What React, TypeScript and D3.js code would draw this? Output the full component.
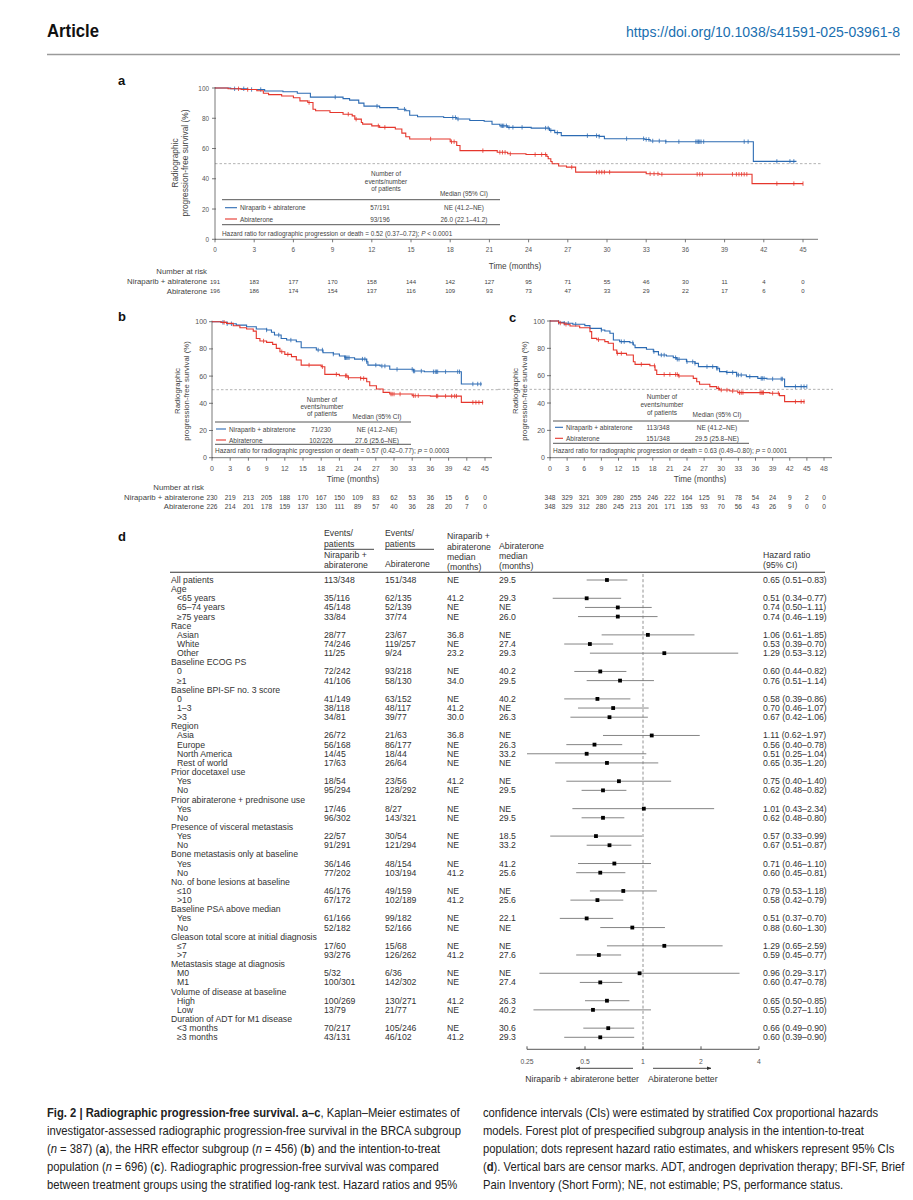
import React from 'react';
import * as d3 from 'd3';

type Pt = [number, number];

const FONT = "'Liberation Sans', Arial, sans-serif";
const NIRA_COLOR = '#2c6bb3';
const ABI_COLOR = '#e5362c';
const AXIS = '#555';
const TXT = '#333';

// ---------- shared ticks ----------
const TICKS_45 = [0, 3, 6, 9, 12, 15, 18, 21, 24, 27, 30, 33, 36, 39, 42, 45];
const TICKS_48 = [0, 3, 6, 9, 12, 15, 18, 21, 24, 27, 30, 33, 36, 39, 42, 45, 48];
const Y_TICKS = [0, 20, 40, 60, 80, 100];
const ARMS = ['Niraparib + abiraterone', 'Abiraterone'];

// ---------- panel a (BRCA) ----------
const A_NIRA: Pt[] = [[0, 100], [1.2, 99.5], [2.5, 99], [3.8, 98], [5.2, 97.5], [6.3, 96.5], [7.3, 94], [9.8, 93], [10.3, 92], [11.0, 90], [11.4, 88], [12.6, 87], [14, 86], [14.6, 85], [14.9, 82], [15.5, 81], [17.5, 80.5], [18.5, 79.5], [19.5, 78.5], [20.6, 78], [21.2, 76], [21.8, 75], [22.4, 74], [24.2, 73.5], [25.6, 72], [26.0, 70.5], [26.5, 68.5], [29.4, 68], [29.8, 66.5], [32.9, 66], [33.3, 65], [34.5, 64.5], [41.2, 51.5], [44.5, 51.5]];
const A_ABI: Pt[] = [[0, 100], [1.0, 99.5], [2.0, 99], [3.2, 98.2], [3.7, 96.5], [4.1, 95.6], [5.1, 94.7], [6.0, 93.6], [6.5, 91.5], [7.1, 90.4], [7.5, 86], [7.7, 85], [8.8, 83.8], [9.8, 82.7], [10.5, 81.6], [10.7, 79.4], [11.2, 77.2], [11.3, 76.1], [12.0, 75], [12.6, 74], [13.8, 72.9], [14.3, 70.2], [14.6, 67.8], [14.9, 66.3], [18.0, 64.5], [18.5, 62], [18.75, 58.6], [21.6, 57.5], [22.4, 56.5], [23.8, 56], [25.4, 54.7], [25.5, 53.2], [25.7, 51.4], [25.8, 49.9], [26.3, 48.4], [26.9, 47.7], [27.6, 44.4], [33.0, 43.3], [34, 43], [41.1, 36.8], [45, 36.8]];
const A_NIRA_CENS = [1.5, 2.2, 2.8, 3.5, 9.2, 12.4, 14.5, 18.2, 18.4, 18.6, 21.9, 22.0, 22.1, 22.3, 22.5, 22.8, 23.5, 25.3, 25.5, 25.7, 26.2, 28.5, 29.2, 29.4, 31.5, 32.8, 33.0, 33.2, 33.5, 34.0, 34.5, 35.5, 36.8, 36.9, 37.0, 37.1, 37.2, 37.4, 40.5, 40.8, 43.0, 44.0, 44.3];
const A_ABI_CENS = [1.8, 2.5, 7.2, 10.2, 10.8, 12.5, 13.0, 16.5, 18.1, 18.3, 20.5, 21.8, 22.0, 22.2, 22.6, 24.5, 25.0, 25.3, 27.3, 29.2, 29.4, 29.6, 29.8, 30.2, 33.3, 33.6, 33.9, 34.2, 36.9, 37.1, 37.3, 39.6, 39.9, 40.1, 40.3, 40.5, 40.7, 43.0, 44.3, 45.0];
const A_RISK_NIRA = [191, 183, 177, 170, 158, 144, 142, 127, 95, 71, 55, 46, 30, 11, 4, 0];
const A_RISK_ABI = [196, 186, 174, 154, 137, 116, 109, 93, 73, 47, 33, 29, 22, 17, 6, 0];
const A_COUNTS = ['57/191', '93/196'];
const A_MEDIANS = ['NE (41.2–NE)', '26.0 (22.1–41.2)'];
const A_HR = ['0.52 (0.37–0.72)', '< 0.0001'];

// ---------- panel b (HRR effector) ----------
const B_NIRA: Pt[] = [[0, 100], [1.5, 99.5], [2.5, 98.5], [4.0, 97.5], [5.7, 96.3], [7.3, 94.6], [9.0, 93.9], [9.8, 92.2], [10.3, 90.2], [11.4, 87.7], [12.3, 86.5], [13.9, 85.3], [14.7, 80.9], [17.2, 79.2], [18.3, 77.2], [20.0, 76.2], [21.0, 74.8], [21.9, 73.5], [23.5, 72.5], [25.5, 70.6], [25.7, 68.1], [27.7, 67.4], [29.3, 65], [33.2, 63.7], [35, 63.2], [41.1, 54.2], [44.5, 54.2]];
const B_ABI: Pt[] = [[0, 100], [1.5, 99.5], [2.4, 98.8], [3.5, 97], [4.6, 95.6], [5.7, 94.6], [6.8, 93.1], [7.3, 87.7], [7.9, 85.8], [9.0, 84.8], [10.0, 83.3], [10.6, 80.4], [11.2, 77.9], [12.0, 76], [13.1, 74.3], [13.9, 71.8], [14.7, 68.1], [18.0, 66.9], [18.6, 61.3], [21.0, 60.3], [22.4, 58.8], [24.5, 58.3], [25.5, 55.9], [26.0, 52.9], [27.1, 50.5], [28.2, 48], [29.3, 46.8], [33.0, 45.6], [36, 45.3], [41.1, 40.7], [44.7, 40.7]];
const B_NIRA_CENS = [1.8, 2.5, 3.2, 9.0, 11.0, 13.0, 17.5, 18.2, 20.0, 21.9, 22.0, 22.2, 22.4, 22.6, 24.8, 25.2, 25.5, 27.0, 28.0, 28.5, 30.5, 33.0, 33.2, 33.4, 34.5, 36.5, 36.8, 37.0, 37.2, 38.5, 40.5, 40.8, 43.0, 43.8, 44.3];
const B_ABI_CENS = [2.0, 8.5, 11.5, 12.5, 16.0, 18.2, 20.5, 22.0, 22.2, 22.5, 24.5, 25.0, 29.5, 29.7, 30.0, 31.0, 33.2, 33.5, 34.0, 37.0, 37.2, 38.5, 39.5, 40.0, 40.3, 43.0, 43.5, 44.0, 44.6];
const B_RISK_NIRA = [230, 219, 213, 205, 188, 170, 167, 150, 109, 83, 62, 53, 36, 15, 6, 0];
const B_RISK_ABI = [226, 214, 201, 178, 159, 137, 130, 111, 89, 57, 40, 36, 28, 20, 7, 0];
const B_COUNTS = ['71/230', '102/226'];
const B_MEDIANS = ['NE (41.2–NE)', '27.6 (25.6–NE)'];
const B_HR = ['0.57 (0.42–0.77)', '= 0.0003'];

// ---------- panel c (ITT) ----------
const C_NIRA: Pt[] = [[0, 100], [1.5, 99], [2.5, 98.3], [4, 97.6], [6.1, 96.6], [7.0, 94.6], [9.0, 93.4], [9.6, 92.7], [10.5, 91], [11.1, 86.1], [12.2, 84.9], [14.0, 84.1], [14.6, 82.4], [14.9, 80.5], [16.9, 79.3], [18.1, 77.6], [19.0, 75.1], [20.4, 74.4], [21.6, 73.2], [22.2, 72], [23.9, 70.2], [25.4, 69], [26.0, 66.6], [29.2, 65.4], [29.7, 63], [30.9, 62.4], [32.7, 60.5], [34.4, 59.3], [36.4, 58], [38, 57.6], [41.1, 52], [45, 52]];
const C_ABI: Pt[] = [[0, 100], [1.5, 98.5], [2.5, 97.6], [3.5, 96.3], [5.2, 95.1], [7.0, 92.2], [7.3, 87.3], [8.2, 86.3], [9.6, 84.9], [10.2, 83.7], [11.1, 78.8], [11.7, 76.3], [13.4, 75.1], [14.6, 70.2], [14.9, 68.3], [17.5, 67.3], [18.4, 64.1], [18.7, 60.9], [22.5, 59.8], [25.1, 58], [25.7, 55.6], [26.2, 53.7], [28.0, 52], [29.2, 50.7], [29.7, 49.5], [31.5, 48.8], [32.9, 47.6], [38.5, 47.1], [40.2, 45.4], [41.1, 41], [44.6, 41]];
const C_NIRA_CENS = [1.5, 2.5, 3.2, 4.5, 9.0, 12.5, 13.0, 14.5, 18.2, 19.5, 20.0, 22.0, 22.3, 22.6, 24.0, 25.0, 25.4, 27.5, 28.5, 29.2, 29.4, 31.0, 32.0, 32.7, 33.0, 33.5, 35.0, 37.0, 37.2, 37.5, 39.0, 40.5, 40.7, 43.0, 44.0, 44.5, 45.0];
const C_ABI_CENS = [1.8, 2.8, 8.5, 11.8, 12.5, 16.0, 18.3, 20.0, 21.0, 22.0, 22.3, 22.6, 29.5, 30.0, 31.0, 32.0, 33.2, 33.5, 33.8, 36.8, 37.0, 37.2, 37.4, 39.0, 40.0, 43.0, 44.0, 44.5];
const C_RISK_NIRA = [348, 329, 321, 309, 280, 255, 246, 222, 164, 125, 91, 78, 54, 24, 9, 2, 0];
const C_RISK_ABI = [348, 329, 312, 280, 245, 213, 201, 171, 135, 93, 70, 56, 43, 26, 9, 0, 0];
const C_COUNTS = ['113/348', '151/348'];
const C_MEDIANS = ['NE (41.2–NE)', '29.5 (25.8–NE)'];
const C_HR = ['0.63 (0.49–0.80)', '= 0.0001'];

// ---------- panel d (forest) ----------
const SUBGROUPS = ['All patients', 'Age', '<65 years', '65–74 years', '≥75 years', 'Race', 'Asian', 'White', 'Other', 'Baseline ECOG PS', '0', '≥1', 'Baseline BPI-SF no. 3 score', '0', '1–3', '>3', 'Region', 'Asia', 'Europe', 'North America', 'Rest of world', 'Prior docetaxel use', 'Yes', 'No', 'Prior abiraterone + prednisone use', 'Yes', 'No', 'Presence of visceral metastasis', 'Yes', 'No', 'Bone metastasis only at baseline', 'Yes', 'No', 'No. of bone lesions at baseline', '≤10', '>10', 'Baseline PSA above median', 'Yes', 'No', 'Gleason total score at initial diagnosis', '≤7', '>7', 'Metastasis stage at diagnosis', 'M0', 'M1', 'Volume of disease at baseline', 'High', 'Low', 'Duration of ADT for M1 disease', '<3 months', '≥3 months'];
const EVENTS_NIRA = ['113/348', '', '35/116', '45/148', '33/84', '', '28/77', '74/246', '11/25', '', '72/242', '41/106', '', '41/149', '38/118', '34/81', '', '26/72', '56/168', '14/45', '17/63', '', '18/54', '95/294', '', '17/46', '96/302', '', '22/57', '91/291', '', '36/146', '77/202', '', '46/176', '67/172', '', '61/166', '52/182', '', '17/60', '93/276', '', '5/32', '100/301', '', '100/269', '13/79', '', '70/217', '43/131'];
const EVENTS_ABI = ['151/348', '', '62/135', '52/139', '37/74', '', '23/67', '119/257', '9/24', '', '93/218', '58/130', '', '63/152', '48/117', '39/77', '', '21/63', '86/177', '18/44', '26/64', '', '23/56', '128/292', '', '8/27', '143/321', '', '30/54', '121/294', '', '48/154', '103/194', '', '49/159', '102/189', '', '99/182', '52/166', '', '15/68', '126/262', '', '6/36', '142/302', '', '130/271', '21/77', '', '105/246', '46/102'];
const MEDIAN_NIRA = ['NE', '', '41.2', 'NE', 'NE', '', '36.8', 'NE', '23.2', '', 'NE', '34.0', '', 'NE', '41.2', '30.0', '', '36.8', 'NE', 'NE', 'NE', '', '41.2', 'NE', '', 'NE', 'NE', '', 'NE', 'NE', '', 'NE', '41.2', '', 'NE', '41.2', '', 'NE', 'NE', '', 'NE', '41.2', '', 'NE', 'NE', '', '41.2', 'NE', '', 'NE', '41.2'];
const MEDIAN_ABI = ['29.5', '', '29.3', 'NE', '26.0', '', 'NE', '27.4', '29.3', '', '40.2', '29.5', '', '40.2', 'NE', '26.3', '', 'NE', '26.3', '33.2', 'NE', '', 'NE', '29.5', '', 'NE', '29.5', '', '18.5', '33.2', '', '41.2', '25.6', '', 'NE', '25.6', '', '22.1', 'NE', '', 'NE', '27.6', '', 'NE', '27.4', '', '26.3', '40.2', '', '30.6', '29.3'];
const HR = [0.65, null, 0.51, 0.74, 0.74, null, 1.06, 0.53, 1.29, null, 0.60, 0.76, null, 0.58, 0.70, 0.67, null, 1.11, 0.56, 0.51, 0.65, null, 0.75, 0.62, null, 1.01, 0.62, null, 0.57, 0.67, null, 0.71, 0.60, null, 0.79, 0.58, null, 0.51, 0.88, null, 1.29, 0.59, null, 0.96, 0.60, null, 0.65, 0.55, null, 0.66, 0.60];
const HR_LO = [0.51, null, 0.34, 0.50, 0.46, null, 0.61, 0.39, 0.53, null, 0.44, 0.51, null, 0.39, 0.46, 0.42, null, 0.62, 0.40, 0.25, 0.35, null, 0.40, 0.48, null, 0.43, 0.48, null, 0.33, 0.51, null, 0.46, 0.45, null, 0.53, 0.42, null, 0.37, 0.60, null, 0.65, 0.45, null, 0.29, 0.47, null, 0.50, 0.27, null, 0.49, 0.39];
const HR_HI = [0.83, null, 0.77, 1.11, 1.19, null, 1.85, 0.70, 3.12, null, 0.82, 1.14, null, 0.86, 1.07, 1.06, null, 1.97, 0.78, 1.04, 1.20, null, 1.40, 0.82, null, 2.34, 0.80, null, 0.99, 0.87, null, 1.10, 0.81, null, 1.18, 0.79, null, 0.70, 1.30, null, 2.59, 0.77, null, 3.17, 0.78, null, 0.85, 1.10, null, 0.90, 0.90];
const FOREST_TICKS = [0.25, 0.5, 1, 2, 4];
const FOREST_TICK_LABELS = ['0.25', '0.5', '1', '2', '4'];

// ---------- caption ----------
type Seg = { t: string; b?: boolean; i?: boolean };
const CAPTION_LEFT: Seg[][] = [
  [{ t: 'Fig. 2 | Radiographic progression-free survival. a–c', b: true }, { t: ', Kaplan–Meier estimates of' }],
  [{ t: 'investigator-assessed radiographic progression-free survival in the BRCA subgroup' }],
  [{ t: '(' }, { t: 'n', i: true }, { t: ' = 387) (' }, { t: 'a', b: true }, { t: '), the HRR effector subgroup (' }, { t: 'n', i: true }, { t: ' = 456) (' }, { t: 'b', b: true }, { t: ') and the intention-to-treat' }],
  [{ t: 'population (' }, { t: 'n', i: true }, { t: ' = 696) (' }, { t: 'c', b: true }, { t: '). Radiographic progression-free survival was compared' }],
  [{ t: 'between treatment groups using the stratified log-rank test. Hazard ratios and 95%' }],
];
const CAPTION_RIGHT: Seg[][] = [
  [{ t: 'confidence intervals (CIs) were estimated by stratified Cox proportional hazards' }],
  [{ t: 'models. Forest plot of prespecified subgroup analysis in the intention-to-treat' }],
  [{ t: 'population; dots represent hazard ratio estimates, and whiskers represent 95% CIs' }],
  [{ t: '(' }, { t: 'd', b: true }, { t: '). Vertical bars are censor marks. ADT, androgen deprivation therapy; BFI-SF, Brief' }],
  [{ t: 'Pain Inventory (Short Form); NE, not estimable; PS, performance status.' }],
];

// ---------- layouts ----------
const LAYOUT_A = {
  x0: 215, x1: 803, axisEnd: 818, yTop: 88, yBot: 239.3, tickFont: 6.4, tickDy: 10, yLabelGap: 6,
  yTitleX: [174.5, 184.5], yTitleY: 163, yTitleFont: 8.4, timeLabel: [515, 266.7], timeFont: 8.2, dash: [215, 822],
  legend: { top: 199.7, bottom: 224.7, x0: 222, x1: 500, rows: [207.7, 219], countX: 380, medX: 464, sample: [225, 237], labelX: 240, hazY: 233, headX: 386, headY: [173.7, 181, 188.3], medHeadY: 193, font: 6.4 },
  risk: { showLabels: true, titleY: 271, rows: [281.7, 291], labelX: 207, numFont: 6, labelFont: 7.8 },
};
const LAYOUT_B = {
  x0: 212, x1: 485, axisEnd: 492, yTop: 321.7, yBot: 457.7, tickFont: 7, tickDy: 10.6, yLabelGap: 5,
  yTitleX: [177, 186], yTitleY: 391, yTitleFont: 7.8, timeLabel: [353, 479], timeFont: 8.2, dash: [212, 498],
  legend: { top: 422, bottom: 444.3, x0: 215, x1: 411, rows: [429, 440], countX: 321, medX: 377, sample: [216, 226], labelX: 229, hazY: 450.7, headX: 322, headY: [399, 406.3, 413.7], medHeadY: 416.7, font: 6.5 },
  risk: { showLabels: true, titleY: 487, rows: [497, 506.5], labelX: 204, numFont: 6.6, labelFont: 7.8 },
};
const LAYOUT_C = {
  x0: 550, x1: 824, axisEnd: 832, yTop: 321, yBot: 457.7, tickFont: 7, tickDy: 10.6, yLabelGap: 5,
  yTitleX: [515, 524], yTitleY: 391, yTitleFont: 7.8, timeLabel: [700, 479], timeFont: 8.2, dash: [498, 833],
  legend: { top: 421, bottom: 443.3, x0: 553, x1: 749, rows: [427.3, 438.3], countX: 658, medX: 717, sample: [555, 563], labelX: 566, hazY: 450.7, headX: 662, headY: [396.7, 404, 412.3], medHeadY: 414.3, font: 6.5 },
  risk: { showLabels: false, titleY: 487, rows: [497, 506.5], labelX: 204, numFont: 6.6, labelFont: 7.8 },
};

function survAt(c: Pt[], t: number) {
  let s = c[0][1];
  for (const p of c) {
    if (p[0] <= t) s = p[1];
    else break;
  }
  return s;
}

function KMPanel({ L, d }: { L: any; d: any }) {
  const tMax = d.ticks[d.ticks.length - 1];
  const x = d3.scaleLinear().domain([0, tMax]).range([L.x0, L.x1]);
  const y = d3.scaleLinear().domain([0, 100]).range([L.yBot, L.yTop]);
  const line = d3.line<Pt>().x((p) => x(p[0])).y((p) => y(p[1])).curve(d3.curveStepAfter);
  const series = [
    { c: d.nira as Pt[], cens: d.niraCens as number[], col: NIRA_COLOR },
    { c: d.abi as Pt[], cens: d.abiCens as number[], col: ABI_COLOR },
  ];
  const G = L.legend;
  return (
    <g fontFamily={FONT} fill={TXT}>
      <line x1={L.dash[0]} x2={L.dash[1]} y1={y(50)} y2={y(50)} stroke="#a0a0a0" strokeWidth={0.8} strokeDasharray="2.5,2" />
      <line x1={L.x0} x2={L.x0} y1={L.yTop - 1} y2={L.yBot} stroke={AXIS} strokeWidth={0.8} />
      <line x1={L.x0} x2={L.axisEnd} y1={L.yBot} y2={L.yBot} stroke={AXIS} strokeWidth={0.8} />
      {Y_TICKS.map((v) => (
        <g key={'y' + v}>
          <line x1={L.x0 - 3} x2={L.x0 + 1} y1={y(v)} y2={y(v)} stroke={AXIS} strokeWidth={0.8} />
          <text x={L.x0 - L.yLabelGap} y={y(v)} textAnchor="end" dominantBaseline="central" fontSize={L.tickFont} fill="#555">{v}</text>
        </g>
      ))}
      {d.ticks.map((t: number) => (
        <g key={'x' + t}>
          <line x1={x(t)} x2={x(t)} y1={L.yBot} y2={L.yBot + 3} stroke={AXIS} strokeWidth={0.8} />
          <text x={x(t)} y={L.yBot + L.tickDy} textAnchor="middle" dominantBaseline="central" fontSize={L.tickFont} fill="#555">{t}</text>
        </g>
      ))}
      <text transform={`translate(${L.yTitleX[0]},${L.yTitleY}) rotate(-90)`} textAnchor="middle" dominantBaseline="central" fontSize={L.yTitleFont} fill="#444">Radiographic</text>
      <text transform={`translate(${L.yTitleX[1]},${L.yTitleY}) rotate(-90)`} textAnchor="middle" dominantBaseline="central" fontSize={L.yTitleFont} fill="#444">progression-free survival (%)</text>
      <text x={L.timeLabel[0]} y={L.timeLabel[1]} textAnchor="middle" dominantBaseline="central" fontSize={L.timeFont} fill="#444">Time (months)</text>

      {series.map((s, i) => (
        <g key={'s' + i}>
          <path d={line(s.c) || ''} fill="none" stroke={s.col} strokeWidth={1.1} />
          {s.cens.map((t, j) => (
            <line key={j} x1={x(t)} x2={x(t)} y1={y(survAt(s.c, t)) - 2.2} y2={y(survAt(s.c, t)) + 2.2} stroke={s.col} strokeWidth={0.8} />
          ))}
        </g>
      ))}

      {/* legend */}
      <g fontSize={G.font} fill="#444">
        {['Number of', 'events/number', 'of patients'].map((t, i) => (
          <text key={t} x={G.headX} y={G.headY[i]} textAnchor="middle" dominantBaseline="central">{t}</text>
        ))}
        <text x={G.medX} y={G.medHeadY} textAnchor="middle" dominantBaseline="central">Median (95% CI)</text>
        <line x1={G.x0} x2={G.x1} y1={G.top} y2={G.top} stroke="#444" strokeWidth={0.9} />
        <line x1={G.x0} x2={G.x1} y1={G.bottom} y2={G.bottom} stroke="#444" strokeWidth={0.9} />
        {ARMS.map((arm, i) => (
          <g key={arm}>
            <line x1={G.sample[0]} x2={G.sample[1]} y1={G.rows[i]} y2={G.rows[i]} stroke={i === 0 ? NIRA_COLOR : ABI_COLOR} strokeWidth={1.1} />
            <text x={G.labelX} y={G.rows[i]} dominantBaseline="central">{arm}</text>
            <text x={G.countX} y={G.rows[i]} textAnchor="middle" dominantBaseline="central">{d.counts[i]}</text>
            <text x={G.medX} y={G.rows[i]} textAnchor="middle" dominantBaseline="central">{d.medians[i]}</text>
          </g>
        ))}
        <text x={G.x0} y={G.hazY} dominantBaseline="central">
          {`Hazard ratio for radiographic progression or death = ${d.hr[0]}; `}
          <tspan fontStyle="italic">P</tspan>
          {` ${d.hr[1]}`}
        </text>
      </g>

      {/* risk table */}
      <g fill="#444">
        {L.risk.showLabels && (
          <g fontSize={L.risk.labelFont} textAnchor="end">
            <text x={L.risk.labelX} y={L.risk.titleY} dominantBaseline="central">Number at risk</text>
            <text x={L.risk.labelX} y={L.risk.rows[0]} dominantBaseline="central">{ARMS[0]}</text>
            <text x={L.risk.labelX} y={L.risk.rows[1]} dominantBaseline="central">{ARMS[1]}</text>
          </g>
        )}
        {[d.riskNira, d.riskAbi].map((row: number[], r: number) =>
          row.map((v, i) => (
            <text key={r + '-' + i} x={x(d.ticks[i])} y={L.risk.rows[r]} textAnchor="middle" dominantBaseline="central" fontSize={L.risk.numFont}>{v}</text>
          ))
        )}
      </g>
    </g>
  );
}

function Forest() {
  const xF = d3.scaleLog().base(2).domain([0.25, 4]).range([527, 759]);
  const rowY = (i: number) => 580 + i * 9.146;
  const fs = 8.7;
  const C1 = 324, C2 = 385, C3 = 447, C4 = 499, C5 = 763;
  const axisY = 1049.3;
  return (
    <g fontFamily={FONT} fontSize={fs} fill={TXT}>
      {/* headers */}
      <g dominantBaseline="central">
        <text x={C1} y={533}>Events/</text>
        <text x={C1} y={544}>patients</text>
        <text x={C1} y={555}>Niraparib +</text>
        <text x={C1} y={565}>abiraterone</text>
        <text x={C2} y={533}>Events/</text>
        <text x={C2} y={544}>patients</text>
        <text x={C2} y={564}>Abiraterone</text>
        <text x={C3} y={536}>Niraparib +</text>
        <text x={C3} y={546.7}>abiraterone</text>
        <text x={C3} y={556.7}>median</text>
        <text x={C3} y={566.7}>(months)</text>
        <text x={C4} y={546}>Abiraterone</text>
        <text x={C4} y={556}>median</text>
        <text x={C4} y={566}>(months)</text>
        <text x={C5} y={555}>Hazard ratio</text>
        <text x={C5} y={565}>(95% CI)</text>
      </g>
      <line x1={C1} x2={374} y1={549.3} y2={549.3} stroke="#333" strokeWidth={0.9} />
      <line x1={C2} x2={434} y1={549.3} y2={549.3} stroke="#333" strokeWidth={0.9} />
      <line x1={170} x2={825} y1={572.3} y2={572.3} stroke="#333" strokeWidth={1.1} />

      {/* reference line */}
      <line x1={xF(1)} x2={xF(1)} y1={574} y2={axisY} stroke="#777" strokeWidth={0.8} strokeDasharray="3,2.2" />

      {SUBGROUPS.map((label, i) => {
        const y = rowY(i);
        const hr = HR[i];
        const indent = hr !== null && i > 0;
        return (
          <g key={'r' + i} dominantBaseline="central">
            <text x={indent ? 177 : 171} y={y}>{label}</text>
            <text x={C1} y={y}>{EVENTS_NIRA[i]}</text>
            <text x={C2} y={y}>{EVENTS_ABI[i]}</text>
            <text x={C3} y={y}>{MEDIAN_NIRA[i]}</text>
            <text x={C4} y={y}>{MEDIAN_ABI[i]}</text>
            {hr !== null && (
              <g>
                <line x1={xF(HR_LO[i] as number)} x2={xF(HR_HI[i] as number)} y1={y} y2={y} stroke="#777" strokeWidth={0.9} />
                <rect x={xF(hr) - 1.9} y={y - 1.9} width={3.8} height={3.8} fill="#000" />
                <text x={C5} y={y}>{`${(hr as number).toFixed(2)} (${(HR_LO[i] as number).toFixed(2)}–${(HR_HI[i] as number).toFixed(2)})`}</text>
              </g>
            )}
          </g>
        );
      })}

      {/* axis */}
      <line x1={xF(0.25)} x2={xF(4)} y1={axisY} y2={axisY} stroke="#444" strokeWidth={0.9} />
      {FOREST_TICKS.map((t, i) => (
        <g key={'ft' + t}>
          <line x1={xF(t)} x2={xF(t)} y1={axisY - 3} y2={axisY} stroke="#444" strokeWidth={0.9} />
          <text x={xF(t)} y={1061} textAnchor="middle" dominantBaseline="central" fontSize={6.8} fill="#555">{FOREST_TICK_LABELS[i]}</text>
        </g>
      ))}
      <defs>
        <marker id="arrowHead" viewBox="0 0 10 10" refX="9" refY="5" markerWidth="5" markerHeight="5" orient="auto-start-reverse">
          <path d="M0,1 L10,5 L0,9 z" fill="#333" />
        </marker>
      </defs>
      <line x1={633} x2={576} y1={1068.3} y2={1068.3} stroke="#333" strokeWidth={0.9} markerEnd="url(#arrowHead)" />
      <line x1={653} x2={711} y1={1068.3} y2={1068.3} stroke="#333" strokeWidth={0.9} markerEnd="url(#arrowHead)" />
      <text x={639} y={1079.3} textAnchor="end" dominantBaseline="central">Niraparib + abiraterone better</text>
      <text x={648} y={1079.3} dominantBaseline="central">Abiraterone better</text>
    </g>
  );
}

function CaptionBlock({ lines, x, y0 }: { lines: Seg[][]; x: number; y0: number }) {
  return (
    <g transform={`translate(${x},0) scale(0.865,1)`} fontFamily={FONT} fontSize={13} fill="#222">
      {lines.map((segs, i) => (
        <text key={i} x={0} y={y0 + i * 18}>
          {segs.map((s, j) => (
            <tspan key={j} fontWeight={s.b ? 'bold' : 'normal'} fontStyle={s.i ? 'italic' : 'normal'}>{s.t}</tspan>
          ))}
        </text>
      ))}
    </g>
  );
}

export default function App() {
  const dataA = { ticks: TICKS_45, nira: A_NIRA, abi: A_ABI, niraCens: A_NIRA_CENS, abiCens: A_ABI_CENS, riskNira: A_RISK_NIRA, riskAbi: A_RISK_ABI, counts: A_COUNTS, medians: A_MEDIANS, hr: A_HR };
  const dataB = { ticks: TICKS_45, nira: B_NIRA, abi: B_ABI, niraCens: B_NIRA_CENS, abiCens: B_ABI_CENS, riskNira: B_RISK_NIRA, riskAbi: B_RISK_ABI, counts: B_COUNTS, medians: B_MEDIANS, hr: B_HR };
  const dataC = { ticks: TICKS_48, nira: C_NIRA, abi: C_ABI, niraCens: C_NIRA_CENS, abiCens: C_ABI_CENS, riskNira: C_RISK_NIRA, riskAbi: C_RISK_ABI, counts: C_COUNTS, medians: C_MEDIANS, hr: C_HR };
  return (
    <svg width={913} height={1200} viewBox="0 0 913 1200" style={{ position: 'absolute', left: 0, top: 0, background: '#fff' }}>
      <rect x={0} y={0} width={913} height={1200} fill="#fff" />
      {/* header */}
      <text x={47} y={37} fontFamily={FONT} fontWeight="bold" fontSize={18} fill="#111" textLength={52} lengthAdjust="spacingAndGlyphs">Article</text>
      <text x={900} y={37} textAnchor="end" fontFamily={FONT} fontSize={14} fill="#1a6fb0" textLength={274} lengthAdjust="spacingAndGlyphs">https://doi.org/10.1038/s41591-025-03961-8</text>
      <line x1={47} x2={900} y1={54.5} y2={54.5} stroke="#9a9a9a" strokeWidth={1.4} />

      {/* panel labels */}
      <g fontFamily={FONT} fontWeight="bold" fontSize={13} fill="#111" dominantBaseline="central">
        <text x={118} y={80}>a</text>
        <text x={118} y={316}>b</text>
        <text x={509} y={317.5}>c</text>
        <text x={118} y={536}>d</text>
      </g>

      <KMPanel L={LAYOUT_A} d={dataA} />
      <KMPanel L={LAYOUT_B} d={dataB} />
      <KMPanel L={LAYOUT_C} d={dataC} />
      <Forest />

      <CaptionBlock lines={CAPTION_LEFT} x={47} y0={1117} />
      <CaptionBlock lines={CAPTION_RIGHT} x={483} y0={1117} />
    </svg>
  );
}
